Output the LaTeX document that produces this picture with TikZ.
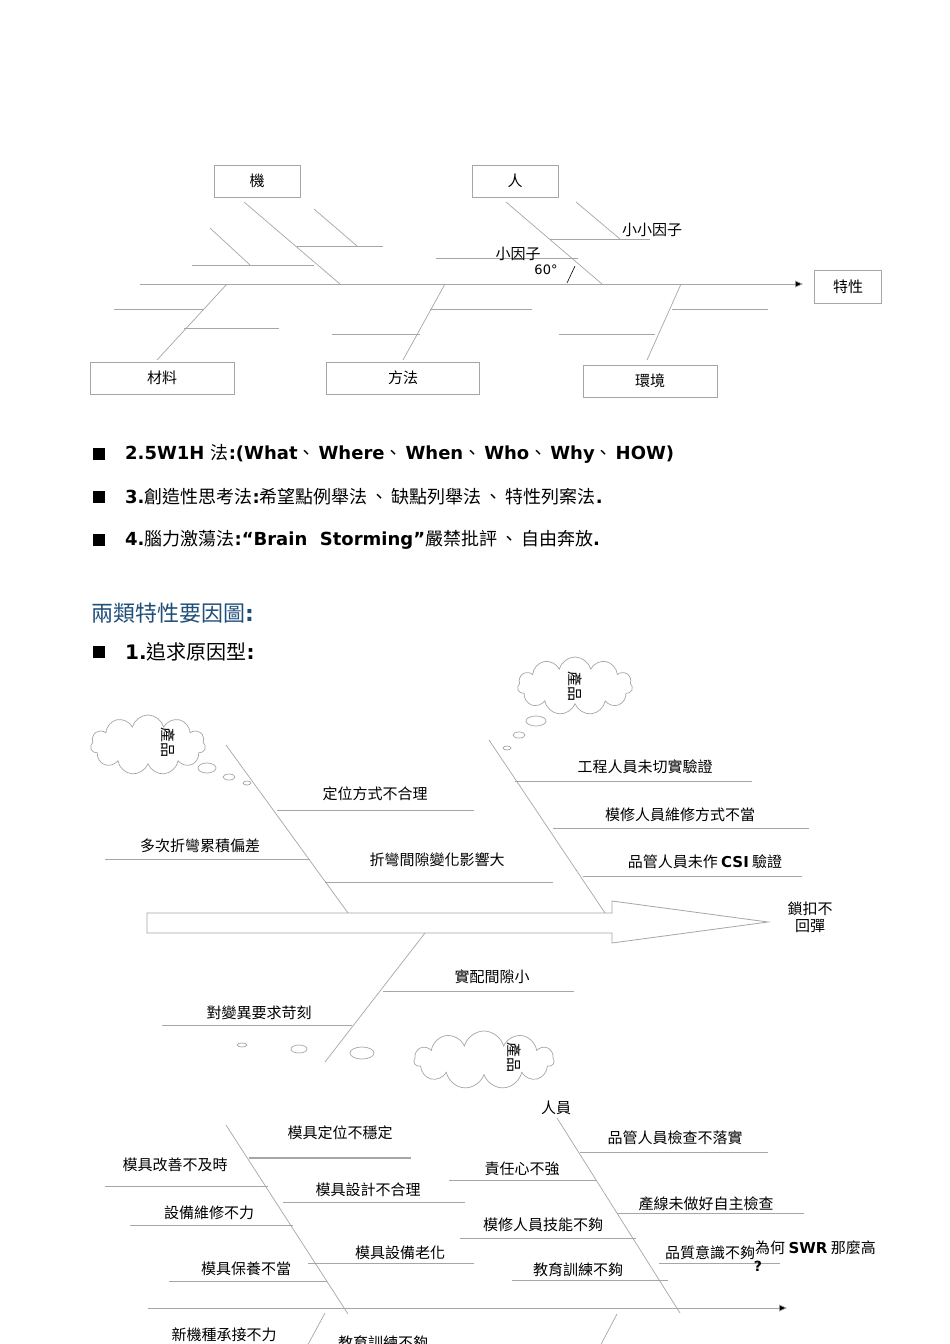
\documentclass[tikz,border=0pt]{standalone}
\usepackage{fontspec}
\setmainfont{DejaVu Sans}
\newfontfamily\cj{Noto Sans CJK TC}
\usetikzlibrary{shapes.symbols,arrows.meta}
\definecolor{ln}{HTML}{A6A6A6}
\definecolor{hd}{HTML}{1F4E79}
\newcommand\cjm[1]{{\cj\mdseries #1}}
\newcommand\dn{\cjm{、}\hspace{3pt}}
\tikzset{
 bone/.style={draw=ln,line width=0.7pt},
 lab/.style={font=\cj\fontsize{15}{17}\selectfont,inner sep=0pt},
 box/.style={draw=ln,line width=0.8pt,font=\cj\fontsize{15}{17}\selectfont},
 bub/.style={draw=ln,line width=0.7pt},
 cloudy/.style={cloud,cloud puffs=11,draw=ln,line width=0.7pt,aspect=2},
 bul/.style={anchor=west,inner sep=0pt,font=\bfseries\fontsize{18}{20}\selectfont},
 ctext/.style={inner sep=0pt,rotate=-90,font=\cj\fontsize{15}{17}\selectfont},
}
\begin{document}
\begin{tikzpicture}[x=1pt,y=-1pt]
\useasboundingbox (0,0) rectangle (950,1344);
\fill[white] (0,0) rectangle (950,1344);
% ---------- top diagram
\node[box,minimum width=86,minimum height=32] (ji) at (257,181) {機};
\node[box,minimum width=86,minimum height=32] (ren) at (515,181) {人};
\node[box,minimum width=67,minimum height=33] (tx) at (848,287) {特性};
\node[box,minimum width=144,minimum height=32] (cl) at (162,378) {材料};
\node[box,minimum width=153,minimum height=32] (ff) at (403,378) {方法};
\node[box,minimum width=134,minimum height=32] (hj) at (650,381) {環境};
\coordinate (s0) at (140,284); \coordinate (s1) at (803,284);
\draw[bone,-{Triangle[length=8pt,width=7pt,fill=black]}] (s0) -- (s1);
\draw[bone] (244,202) -- (340,284);
\draw[bone] (314,209) -- (357,246); \draw[bone] (297,246) -- (383,246);
\draw[bone] (210,228) -- (250,265); \draw[bone] (192,265) -- (314,265);
\draw[bone] (506,202) -- (602,284);
\draw[bone] (576,202) -- (620,239); \draw[bone] (550,239) -- (650,239);
\draw[bone] (436,258) -- (578,258);
\node[lab] (xxyz) at (652,230) {小小因子};
\node[lab] (xyz) at (518,254) {小因子};
\node[inner sep=0pt,font=\fontsize{13}{15}\selectfont] (deg) at (546,270) {60°};
\draw[black,line width=0.6pt] (567,283) -- (575,266);
\draw[bone] (227,284) -- (157,360);
\draw[bone] (114,309) -- (204,309); \draw[bone] (184,328) -- (279,328);
\draw[bone] (445,284) -- (403,360);
\draw[bone] (430,309) -- (532,309); \draw[bone] (332,334) -- (420,334);
\draw[bone] (681,284) -- (647,360);
\draw[bone] (672,309) -- (768,309); \draw[bone] (559,334) -- (655,334);
% ---------- bullets
\foreach \y in {454,497,540} \fill (93,\y-6) rectangle (105,\y+6);
\node[bul] (b1) at (125,454) {2.5W1H \cjm{法}:(What\dn Where\dn When\dn Who\dn Why\dn HOW)};
\node[bul] (b2) at (125,497) {3.\cjm{創造性思考法}:\cjm{希望點例舉法\hspace{3pt}、\hspace{3pt}缺點列舉法\hspace{3pt}、\hspace{3pt}特性列案法}.};
\node[bul] (b3) at (125,540) {4.\cjm{腦力激蕩法}:“Brain\ \ Storming”\cjm{嚴禁批評\hspace{3pt}、\hspace{3pt}自由奔放}.};
\node[anchor=west,inner sep=0pt,text=hd,font=\fontsize{22}{25}\selectfont] (h1) at (91,613) {{\cj 兩類特性要因圖}\textbf{:}};
\fill (93,646) rectangle (105,658);
\node[anchor=west,inner sep=0pt,font=\bfseries\fontsize{20}{23}\selectfont] (h2) at (125,652) {1.\cjm{追求原因型}:};
% ---------- second diagram
\node[cloudy,minimum width=115,minimum height=58] (c1) at (575,686) {};
\node[ctext] at (c1) {產品};
\draw[bub] (536,721) ellipse (10 and 5); \draw[bub] (519,735) ellipse (6 and 3); \draw[bub] (507,748) ellipse (4 and 2);
\node[cloudy,minimum width=115,minimum height=60] (c2) at (148,745) {};
\node[ctext] at (168,742) {產品};
\draw[bub] (207,768) ellipse (9 and 5); \draw[bub] (229,777) ellipse (6 and 3); \draw[bub] (247,783) ellipse (4 and 2);
\node[cloudy,minimum width=140,minimum height=58] (c3) at (484,1060) {};
\node[ctext] at (514,1057) {產品};
\draw[bub] (362,1053) ellipse (12 and 6); \draw[bub] (299,1049) ellipse (8 and 4); \draw[bub] (242,1045) ellipse (5 and 2);
\draw[bone,line width=0.8pt] (147,913) -- (612,913) -- (612,901) -- (768,922) -- (612,943) -- (612,933) -- (147,933) -- cycle;
\draw[bone] (226,745) -- (348,913);
\draw[bone] (489,740) -- (605,913);
\draw[bone] (425,933) -- (325,1062);
\node[lab] at (375,794) {定位方式不合理}; \draw[bone] (277,810) -- (474,810);
\node[lab] at (200,846) {多次折彎累積偏差}; \draw[bone] (105,859) -- (310,859);
\node[lab] at (437,860) {折彎間隙變化影響大}; \draw[bone] (325,882) -- (553,882);
\node[lab] at (645,767) {工程人員未切實驗證}; \draw[bone] (515,781) -- (752,781);
\node[lab] at (680,815) {模修人員維修方式不當}; \draw[bone] (553,828) -- (809,828);
\node[lab] at (705,862) {品管人員未作 {\fontspec{DejaVu Sans}\bfseries CSI} 驗證}; \draw[bone] (583,876) -- (802,876);
\node[lab,align=center] at (810,917) {鎖扣不\\回彈};
\node[lab] at (492,977) {實配間隙小}; \draw[bone] (383,991) -- (574,991);
\node[lab] at (259,1013) {對變異要求苛刻}; \draw[bone] (162,1025) -- (352,1025);
% ---------- third diagram
\node[lab] (ry) at (556,1108) {人員};
\draw[bone,-{Triangle[length=8pt,width=7pt,fill=black]}] (148,1308) -- (787,1308);
\draw[bone] (226,1125) -- (348,1314);
\draw[bone] (557,1118) -- (680,1313);
\draw[bone] (325,1313) -- (305,1350);
\draw[bone] (617,1314) -- (598,1350);
\node[lab] at (340,1133) {模具定位不穩定}; \draw[bone,line width=1.3pt] (249,1158) -- (411,1158);
\node[lab] at (175,1165) {模具改善不及時}; \draw[bone] (105,1186) -- (268,1186);
\node[lab] at (368,1190) {模具設計不合理}; \draw[bone] (283,1202) -- (465,1202);
\node[lab] at (209,1213) {設備維修不力}; \draw[bone] (130,1225) -- (293,1225);
\node[lab] at (400,1253) {模具設備老化}; \draw[bone] (308,1263) -- (474,1263);
\node[lab] at (246,1269) {模具保養不當}; \draw[bone] (169,1281) -- (327,1281);
\node[lab] at (675,1138) {品管人員檢查不落實}; \draw[bone] (580,1152) -- (768,1152);
\node[lab] at (522,1169) {責任心不強}; \draw[bone] (449,1180) -- (597,1180);
\node[lab] at (706,1204) {產線未做好自主檢查}; \draw[bone] (617,1213) -- (804,1213);
\node[lab] at (543,1225) {模修人員技能不夠}; \draw[bone] (460,1238) -- (636,1238);
\node[lab] at (710,1253) {品質意識不夠}; \draw[bone] (659,1263) -- (780,1263);
\node[lab] at (578,1270) {教育訓練不夠}; \draw[bone] (512,1280) -- (668,1280);
\node[lab,anchor=west] at (755,1248) {為何 {\fontspec{DejaVu Sans}\bfseries SWR} 那麼高};
\node[inner sep=0pt,font=\bfseries\fontsize{14}{16}\selectfont] at (758,1266) {?};
\node[lab] at (224,1335) {新機種承接不力};
\node[lab,anchor=north] at (383,1335) {教育訓練不夠};
\end{tikzpicture}
\end{document}
